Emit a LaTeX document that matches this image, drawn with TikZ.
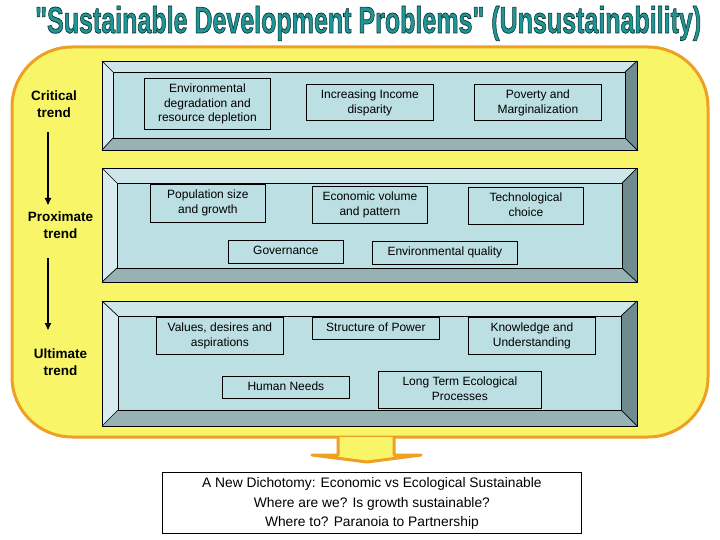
\documentclass[tikz,border=0pt]{standalone}
\usepackage{fontspec}
\setmainfont{Liberation Sans}
\newfontfamily\titlefont{Liberation Sans}[Ligatures=TeXOff, BoldFeatures={FakeBold=2}]
\usetikzlibrary{arrows.meta}
\definecolor{yel}{RGB}{248,246,104}
\definecolor{org}{RGB}{238,160,36}
\definecolor{innerc}{RGB}{188,223,227}
\definecolor{topc}{RGB}{204,230,234}
\definecolor{leftc}{RGB}{214,236,239}
\definecolor{botc}{RGB}{150,178,180}
\definecolor{rightc}{RGB}{112,139,141}
\newcommand\outlinedtitle{\special{pdf:bcolor [0.13 0.58 0.58] [0.03 0.2 0.2]}\resizebox{666pt}{27pt}{\titlefont\bfseries "Sustainable Development Problems" (Unsustainability)}\special{pdf:ecolor}}
\newcommand\bevelpanel[8]{%
  \fill[topc] (#1,#2) -- (#3,#2) -- (#7,#6) -- (#5,#6) -- cycle;
  \fill[leftc] (#1,#2) -- (#5,#6) -- (#5,#8) -- (#1,#4) -- cycle;
  \fill[botc] (#1,#4) -- (#5,#8) -- (#7,#8) -- (#3,#4) -- cycle;
  \fill[rightc] (#3,#2) -- (#3,#4) -- (#7,#8) -- (#7,#6) -- cycle;
  \fill[innerc] (#5,#6) rectangle (#7,#8);
  \draw[panelline] (#1,#2) rectangle (#3,#4);
  \draw[panelline] (#5,#6) rectangle (#7,#8);
  \draw[panelline] (#1,#2) -- (#5,#6) (#3,#2) -- (#7,#6) (#1,#4) -- (#5,#8) (#3,#4) -- (#7,#8);
}
\newcommand\tbx[6]{%
  \node[boxsty, anchor=north west, minimum width=#4pt-#2pt, minimum height=#5pt-#3pt] (#1) at (#2,#3) {};
  \node[boxtext, anchor=north] (#1-t) at ([yshift=-6pt]#1.north) {#6};
}
\tikzset{
  panelline/.style={black, line width=0.7pt},
  boxsty/.style={draw=black, line width=0.8pt, inner sep=0pt},
  boxtext/.style={font=\fontsize{12}{14.5}\selectfont, align=center, inner sep=0pt},
  lbl/.style={font=\bfseries\fontsize{13.5}{17}\selectfont, align=center, inner sep=0pt},
  trendarrow/.style={line width=1.6pt, -{Triangle[length=7pt,width=6pt]}},
}
\begin{document}
\begin{tikzpicture}[x=1pt, y=-1pt]
\useasboundingbox (0,0) rectangle (720,540);
\fill[white] (0,0) rectangle (720,540);
% title
\node[anchor=base west, inner sep=0pt] (title) at (35,33) {\outlinedtitle};
% yellow box
\draw[org, fill=yel, line width=3pt, rounded corners=60pt] (12,47) rectangle (708,437);
% bottom arrow
\draw[org, fill=yel, line width=3pt, line join=round] (338,437) -- (338,455) -- (312,455) -- (367,462) -- (421,455) -- (394,455) -- (394,437);
% panels
\bevelpanel{102}{61}{637}{150}{113}{72}{625}{138}
\bevelpanel{102}{168}{637}{282}{117}{183}{622}{268}
\bevelpanel{102}{301}{637}{426}{118}{316}{621}{410}
% boxes
\tbx{env}{144}{78}{270}{129}{Environmental\\degradation and\\resource depletion}
\tbx{inc}{306}{84}{433}{120}{Increasing Income\\disparity}
\tbx{pov}{474}{84}{601}{120}{Poverty and\\Marginalization}
\tbx{pop}{150}{184}{265}{222}{Population size\\and growth}
\tbx{eco}{312}{186}{427}{223}{Economic volume\\and pattern}
\tbx{tech}{468}{187}{583}{224}{Technological\\choice}
\tbx{gov}{228}{240}{343}{263}{Governance}
\tbx{envq}{372}{241}{517}{264}{Environmental quality}
\tbx{val}{156}{317}{283}{354}{Values, desires and\\aspirations}
\tbx{pow}{312}{317}{439}{339}{Structure of Power}
\tbx{know}{468}{317}{595}{354}{Knowledge and\\Understanding}
\tbx{hn}{222}{376}{349}{398}{Human Needs}
\tbx{lte}{378}{371}{541}{408}{Long Term Ecological\\Processes}
% left labels
\node[lbl] (crit) at (54,104.5) {Critical\\trend};
\node[lbl] (prox) at (60.5,225.5) {Proximate\\trend};
\node[lbl] (ult) at (60.5,362.5) {Ultimate\\trend};
\coordinate (a1s) at (48,132);
\coordinate (a1e) at (48,205);
\coordinate (a2s) at (48,258);
\coordinate (a2e) at (48,330);
\draw[trendarrow] (a1s) -- (a1e);
\draw[trendarrow] (a2s) -- (a2e);
% bottom box
\node[draw=black, line width=0.8pt, fill=white, anchor=north west, minimum width=419pt, minimum height=61pt, inner sep=0pt] (botbox) at (162,472) {};
\node[font=\fontsize{13.8}{19.5}\selectfont, align=center, inner sep=0pt] (bottext) at ([yshift=-1pt]botbox.center) {A New Dichotomy: Economic vs Ecological Sustainable\\Where are we? Is growth sustainable?\\Where to? Paranoia to Partnership};
\end{tikzpicture}
\end{document}
